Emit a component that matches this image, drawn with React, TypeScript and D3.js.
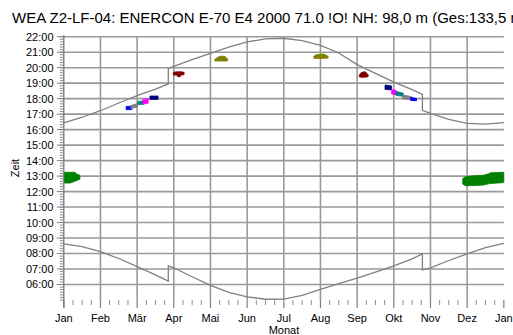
import React from "react";
import * as d3 from "d3";

const W = 513;
const H = 335;

const TITLE = "WEA Z2-LF-04: ENERCON E-70 E4 2000 71.0 !O! NH: 98,0 m (Ges:133,5 m)";
const X_TITLE = "Monat";
const Y_TITLE = "Zeit";

// Month labels at month boundaries (position 0..12)
const MONTHS = ["Jan", "Feb", "Mär", "Apr", "Mai", "Jun", "Jul", "Aug", "Sep", "Okt", "Nov", "Dez", "Jan"];
// Hour tick labels
const HOURS = [6, 7, 8, 9, 10, 11, 12, 13, 14, 15, 16, 17, 18, 19, 20, 21, 22];

// Sunset time [month position, hour], with daylight-saving jumps
const SUNSET: [number, number][] = [
  [0, 16.43], [0.5, 16.8], [1, 17.22], [1.5, 17.72], [2, 18.2], [2.5, 18.62], [2.85, 18.95],
  [2.85, 19.95], [3, 20.08], [3.5, 20.52], [4, 20.93], [4.5, 21.33], [5, 21.66], [5.5, 21.86],
  [6, 21.9], [6.5, 21.74], [7, 21.44], [7.5, 20.95], [8, 20.2], [8.5, 19.63], [9, 19.07],
  [9.5, 18.58], [9.78, 18.27], [9.78, 17.25], [10, 17.05], [10.5, 16.66], [11, 16.4],
  [11.5, 16.36], [12, 16.45],
];

// Sunrise time [month position, hour]
const SUNRISE: [number, number][] = [
  [0, 8.62], [0.5, 8.45], [1, 8.12], [1.5, 7.68], [2, 7.15], [2.5, 6.62], [2.85, 6.22],
  [2.85, 7.2], [3, 7.08], [3.5, 6.5], [4, 5.95], [4.5, 5.5], [5, 5.2], [5.5, 5.05],
  [6, 5.06], [6.5, 5.3], [7, 5.68], [7.5, 6.05], [8, 6.42], [8.5, 6.8], [9, 7.2],
  [9.5, 7.65], [9.78, 7.98], [9.78, 6.95], [10, 7.08], [10.5, 7.55], [11, 7.98],
  [11.5, 8.38], [12, 8.66],
];

// Shadow flicker periods: each point is [month position, lower hour, upper hour]
const GREEN_JAN: [number, number, number][] = [
  [0.02, 12.55, 13.25], [0.17, 12.55, 13.25], [0.3, 12.66, 13.25], [0.36, 12.72, 13.12], [0.44, 12.8, 13.05],
];
const GREEN_DEC: [number, number, number][] = [
  [10.88, 12.48, 12.85], [10.95, 12.38, 12.95], [11.1, 12.38, 13.0], [11.45, 12.42, 13.06],
  [11.58, 12.5, 13.15], [11.65, 12.52, 13.22], [12, 12.58, 13.25],
];
const BLUE_SPRING: [number, number, number][] = [[1.7, 17.28, 17.5], [1.86, 17.3, 17.52]];
const GRAY_SPRING: [number, number, number][] = [[1.83, 17.36, 17.56], [2.0, 17.45, 17.68]];
const TEAL_SPRING: [number, number, number][] = [[2.02, 17.6, 17.82], [2.19, 17.64, 17.86]];
const MAGENTA_SPRING: [number, number, number][] = [[2.16, 17.66, 17.95], [2.3, 17.7, 18.0]];
const NAVY_SPRING: [number, number, number][] = [[2.35, 17.95, 18.17], [2.57, 17.95, 18.17]];
const MAROON_SPRING: [number, number, number][] = [
  [2.99, 19.52, 19.7], [3.09, 19.52, 19.74], [3.1, 19.42, 19.74], [3.18, 19.42, 19.74],
  [3.19, 19.52, 19.74], [3.28, 19.54, 19.7],
];
const OLIVE_SPRING: [number, number, number][] = [
  [4.12, 20.43, 20.55], [4.2, 20.43, 20.68], [4.3, 20.43, 20.75], [4.4, 20.43, 20.72], [4.47, 20.45, 20.55],
];
const OLIVE_SUMMER: [number, number, number][] = [
  [6.82, 20.6, 20.75], [6.9, 20.6, 20.85], [7.1, 20.6, 20.88], [7.21, 20.62, 20.72],
];
const MAROON_AUTUMN: [number, number, number][] = [
  [8.06, 19.4, 19.55], [8.12, 19.38, 19.7], [8.22, 19.38, 19.74], [8.3, 19.42, 19.55],
];
const NAVY_AUTUMN: [number, number, number][] = [[8.76, 18.6, 18.88], [8.94, 18.56, 18.82]];
const MAGENTA_AUTUMN: [number, number, number][] = [[8.94, 18.3, 18.58], [9.06, 18.25, 18.55]];
const TEAL_AUTUMN: [number, number, number][] = [[9.06, 18.2, 18.47], [9.26, 18.15, 18.35]];
const GRAY_AUTUMN: [number, number, number][] = [[9.24, 17.98, 18.25], [9.49, 17.93, 18.12]];
const BLUE_AUTUMN: [number, number, number][] = [[9.46, 17.88, 18.08], [9.62, 17.87, 18.02]];

const PATCHES: { color: string; pts: [number, number, number][] }[] = [
  { color: "#008000", pts: GREEN_JAN },
  { color: "#008000", pts: GREEN_DEC },
  { color: "#0000ff", pts: BLUE_SPRING },
  { color: "#808080", pts: GRAY_SPRING },
  { color: "#008080", pts: TEAL_SPRING },
  { color: "#ff00ff", pts: MAGENTA_SPRING },
  { color: "#000080", pts: NAVY_SPRING },
  { color: "#800000", pts: MAROON_SPRING },
  { color: "#808000", pts: OLIVE_SPRING },
  { color: "#808000", pts: OLIVE_SUMMER },
  { color: "#800000", pts: MAROON_AUTUMN },
  { color: "#000080", pts: NAVY_AUTUMN },
  { color: "#ff00ff", pts: MAGENTA_AUTUMN },
  { color: "#008080", pts: TEAL_AUTUMN },
  { color: "#808080", pts: GRAY_AUTUMN },
  { color: "#0000ff", pts: BLUE_AUTUMN },
];

const FONT = "'Liberation Sans', Arial, sans-serif";

export default function App() {
  const x = d3.scaleLinear().domain([0, 12]).range([63.8, 503.8]);
  const y = d3.scaleLinear().domain([5, 22]).range([300, 36.7]);

  const line = d3
    .line<[number, number]>()
    .x((d) => x(d[0]))
    .y((d) => y(d[1]));

  const area = d3
    .area<[number, number, number]>()
    .x((d) => x(d[0]))
    .y0((d) => y(d[1]))
    .y1((d) => y(d[2]));

  const minorX = d3.range(0, 12.001, 0.25);
  const minorY = d3.range(5, 22.001, 1 / 6);
  const pad = (h: number) => (h < 10 ? "0" : "") + h + ":00";

  const grid = "#999999";

  return (
    <svg
      width={W}
      height={H}
      style={{ position: "fixed", left: 0, top: 0, background: "#fff" }}
      fontFamily={FONT}
    >
      <rect x={0} y={0} width={W} height={H} fill="#fff" />
      <text x={12} y={22.5} fontSize={15} fill="#000">
        {TITLE}
      </text>

      {/* horizontal grid */}
      {HOURS.map((h) => (
        <line key={"h" + h} x1={x(0)} x2={x(12)} y1={y(h)} y2={y(h)} stroke={grid} strokeWidth={1.6} />
      ))}
      {/* vertical grid */}
      {d3.range(1, 12).map((m) => (
        <line key={"v" + m} x1={x(m)} x2={x(m)} y1={y(22)} y2={y(5)} stroke={grid} strokeWidth={1.6} />
      ))}

      {/* y axis */}
      <line x1={x(0)} x2={x(0)} y1={y(22) - 1.5} y2={308} stroke="#808080" strokeWidth={1.4} />
      {minorY.map((h, i) => (
        <line key={"ym" + i} x1={x(0) - 4} x2={x(0)} y1={y(h)} y2={y(h)} stroke="#808080" strokeWidth={0.9} />
      ))}
      {HOURS.map((h) => (
        <g key={"yl" + h}>
          <line x1={x(0) - 7} x2={x(0)} y1={y(h)} y2={y(h)} stroke="#808080" strokeWidth={1} />
          <text x={53.5} y={y(h)} dy="0.36em" textAnchor="end" fontSize={11} fill="#000">
            {pad(h)}
          </text>
        </g>
      ))}

      {/* x axis ticks */}
      {minorX.map((m, i) => {
        const major = Math.abs(m - Math.round(m)) < 1e-6;
        return (
          <line
            key={"xm" + i}
            x1={x(m)}
            x2={x(m)}
            y1={y(5)}
            y2={y(5) + (major ? 8 : 5)}
            stroke="#808080"
            strokeWidth={major ? 1.2 : 0.9}
          />
        );
      })}
      {MONTHS.map((lab, i) => (
        <text key={"xl" + i} x={x(i)} y={321.5} textAnchor="middle" fontSize={11} fill="#000">
          {lab}
        </text>
      ))}
      <text x={284} y={333.5} textAnchor="middle" fontSize={11} fill="#000">
        {X_TITLE}
      </text>
      <text
        transform="translate(19,168) rotate(-90)"
        textAnchor="middle"
        fontSize={11}
        fill="#000"
      >
        {Y_TITLE}
      </text>

      {/* sunrise / sunset */}
      <path d={line(SUNSET) ?? ""} fill="none" stroke="#808080" strokeWidth={1.3} />
      <path d={line(SUNRISE) ?? ""} fill="none" stroke="#808080" strokeWidth={1.3} />

      {/* shadow flicker periods */}
      {PATCHES.map((p, i) => (
        <path key={"p" + i} d={area(p.pts) ?? ""} fill={p.color} stroke={p.color} strokeWidth={0.8} />
      ))}
    </svg>
  );
}
